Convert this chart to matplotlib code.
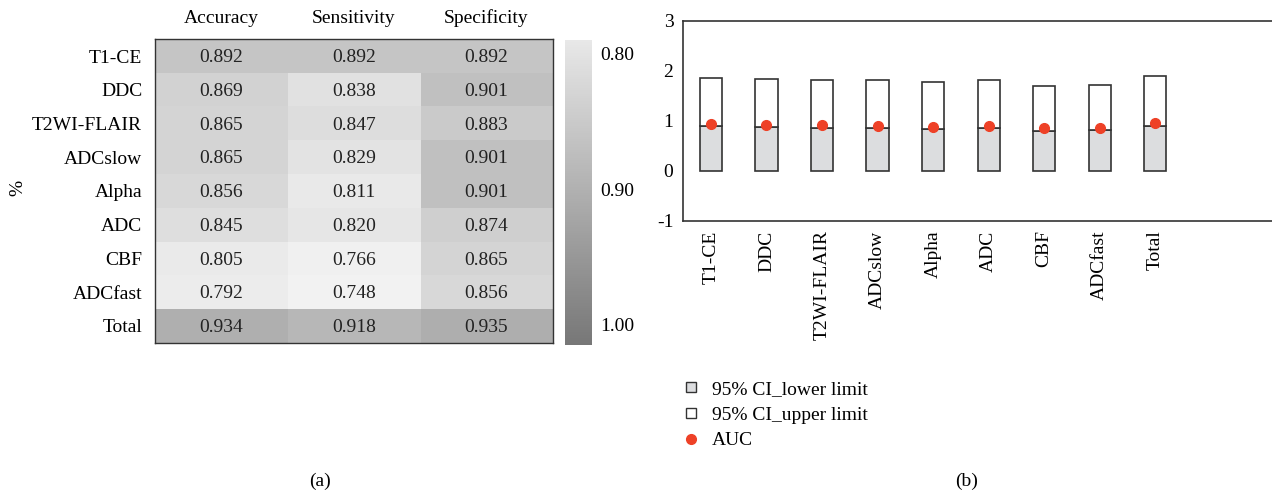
import numpy as np
import matplotlib
matplotlib.use("Agg")
import matplotlib.pyplot as plt
from matplotlib.colors import LinearSegmentedColormap, Normalize
from matplotlib.cm import ScalarMappable
from matplotlib.lines import Line2D

# ---- data ----
sequences = ["T1-CE", "DDC", "T2WI-FLAIR", "ADCslow", "Alpha", "ADC", "CBF", "ADCfast", "Total"]
metrics = ["Accuracy", "Sensitivity", "Specificity"]
accuracy = [0.892, 0.869, 0.865, 0.865, 0.856, 0.845, 0.805, 0.792, 0.934]
sensitivity = [0.892, 0.838, 0.847, 0.829, 0.811, 0.820, 0.766, 0.748, 0.918]
specificity = [0.892, 0.901, 0.883, 0.901, 0.901, 0.874, 0.865, 0.856, 0.935]

ci_lower = [0.90, 0.88, 0.865, 0.865, 0.84, 0.865, 0.79, 0.81, 0.905]
ci_upper = [0.965, 0.95, 0.96, 0.95, 0.935, 0.945, 0.90, 0.91, 1.00]
auc = [0.935, 0.91, 0.91, 0.905, 0.87, 0.905, 0.85, 0.865, 0.955]

plt.rcParams['font.family'] = ['Liberation Serif', 'DejaVu Serif']
plt.rcParams['axes.unicode_minus'] = False
FS = 14
EDGE = '#333333'

fig = plt.figure(figsize=(12.72, 4.95), dpi=100)

# ---- (a) heatmap ----
cell_cmap = LinearSegmentedColormap.from_list(
    "cells", [(0.0, '#f3f3f3'), (0.23, '#ececec'), (0.38, '#e1e1e1'),
              (0.50, '#d2d2d2'), (0.62, '#c0c0c0'), (0.75, '#afafaf'), (1.0, '#969696')])
bar_cmap = LinearSegmentedColormap.from_list("bar", ['#e8e8e8', '#777777'])

data = np.array([accuracy, sensitivity, specificity]).T
ax1 = fig.add_axes([0.1216, 0.3077, 0.3131, 0.6129])
ax1.imshow(data, cmap=cell_cmap, norm=Normalize(0.74, 1.0), aspect='auto')
for i in range(data.shape[0]):
    for j in range(data.shape[1]):
        ax1.text(j, i + 0.05, '{:.3f}'.format(data[i, j]), ha='center', va='center',
                 fontsize=FS, color='#222222')
ax1.set_xticks(range(len(metrics)))
ax1.set_xticklabels(metrics, fontsize=FS)
ax1.xaxis.tick_top()
ax1.set_yticks(range(len(sequences)))
ax1.set_yticklabels(sequences, fontsize=FS)
ax1.tick_params(length=0, pad=9)
for s in ax1.spines.values():
    s.set_color(EDGE)
    s.set_linewidth(1.0)
fig.text(0.014, 0.62, '%', rotation=90, fontsize=FS, ha='center', va='center')

cax = fig.add_axes([0.4442, 0.303, 0.0212, 0.616])
sm = ScalarMappable(norm=Normalize(0.79, 1.015), cmap=bar_cmap)
cbar = fig.colorbar(sm, cax=cax, ticks=[0.80, 0.90, 1.00], format='%.2f')
cax.invert_yaxis()
cbar.outline.set_visible(False)
cax.tick_params(length=0, labelsize=FS, pad=6)

# ---- (b) CI bars ----
ax2 = fig.add_axes([0.537, 0.554, 0.463, 0.4036])
x = np.arange(len(sequences))
ax2.bar(x, ci_lower, 0.4, color='#dcdddf', edgecolor=EDGE, linewidth=1.2)
ax2.bar(x, ci_upper, 0.4, bottom=ci_lower, color='white', edgecolor=EDGE, linewidth=1.2)
ax2.plot(x, auc, 'o', color='#ee4127', ms=7, ls='none', zorder=5)
ax2.set_xlim(-0.5, 10.1)
ax2.set_ylim(-1, 3)
ax2.set_yticks([-1, 0, 1, 2, 3])
ax2.set_xticks(x)
ax2.set_xticklabels(sequences, rotation=90, fontsize=FS)
ax2.tick_params(axis='y', labelsize=FS, length=0, pad=7)
ax2.tick_params(axis='x', length=0, pad=7)
ax2.spines['right'].set_visible(False)
for k in ['left', 'top', 'bottom']:
    ax2.spines[k].set_color(EDGE)
    ax2.spines[k].set_linewidth(1.2)

handles = [
    Line2D([], [], marker='s', ls='none', mfc='#dcdddf', mec=EDGE, ms=6.5, mew=1),
    Line2D([], [], marker='s', ls='none', mfc='white', mec=EDGE, ms=6.5, mew=1),
    Line2D([], [], marker='o', ls='none', color='#ee4127', ms=7),
]
fig.legend(handles, ['95% CI_lower limit', '95% CI_upper limit', 'AUC'],
           loc='upper left', bbox_to_anchor=(0.537, 0.232), frameon=False,
           fontsize=FS, handlelength=0.8, handletextpad=0.7, labelspacing=0.42,
           borderpad=0, borderaxespad=0)

fig.text(320 / 1272, 1 - 481 / 495, '(a)', fontsize=FS, ha='center', va='center')
fig.text(967 / 1272, 1 - 481 / 495, '(b)', fontsize=FS, ha='center', va='center')

fig.savefig('out.png', dpi=100)
